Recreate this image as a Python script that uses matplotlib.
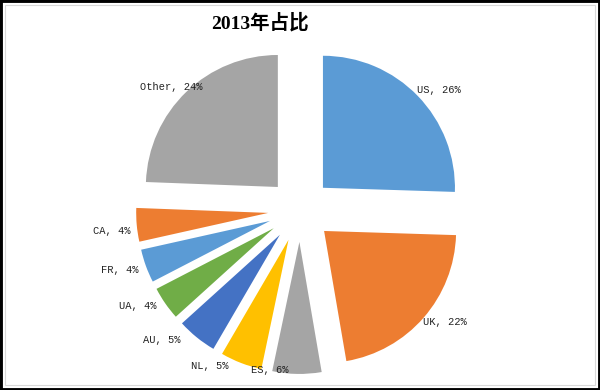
import matplotlib
matplotlib.use('Agg')
import matplotlib.pyplot as plt
from matplotlib.patches import Rectangle

countries = ['US', 'UK', 'ES', 'NL', 'AU', 'UA', 'FR', 'CA', 'Other']
shares = [25.5, 21.8, 6.0, 5.1, 4.9, 4.1, 4.1, 4.1, 24.4]
colors = ['#5B9BD5', '#ED7D31', '#A5A5A5', '#FFC000', '#4472C4',
          '#70AD47', '#5B9BD5', '#ED7D31', '#A5A5A5']
title = '2013年占比'

labels = ['%s, %.0f%%' % (c, s) for c, s in zip(countries, shares)]

# small pixel nudges so labels sit where excel put them
nudge = {'US': (-5, 1), 'UK': (-6, 0), 'ES': (-8, 11), 'NL': (-10, 3),
         'AU': (-12, 2), 'UA': (-3, 1), 'FR': (-1, -2), 'CA': (0, -5),
         'Other': (21, 0)}

fig = plt.figure(figsize=(6, 3.9), dpi=100)
ax = fig.add_axes([0, 0, 1, 1])
r = 132.0  # pixels per unit radius

wedges, texts = ax.pie(shares, labels=labels, colors=colors, startangle=90,
                       counterclock=False, explode=[0.242] * len(shares),
                       labeldistance=1.05,
                       textprops=dict(family='Liberation Mono', fontsize=7.5,
                                      color='#222222'))
for c, t in zip(countries, texts):
    x, y = t.get_position()
    dx, dy = nudge[c]
    t.set_position((x + dx / r, y + dy / r))

ax.set_xlim(-300 / r, 300 / r)
ax.set_ylim(-180 / r, 210 / r)
ax.set_aspect('auto')
ax.axis('off')

fig.text(0.434, 0.943, title, ha='center', va='center', fontsize=14,
         fontweight='bold', family=['Liberation Serif', 'Noto Sans CJK SC'])

fig.add_artist(Rectangle((5 / 600, 5 / 390), 590 / 600, 380 / 390,
                         transform=fig.transFigure, fill=False,
                         ec='#d9d9d9', lw=0.8))
fig.add_artist(Rectangle((0, 0), 1, 1, transform=fig.transFigure,
                         fill=False, ec='black', lw=3.5))

fig.savefig('out.png', dpi=100)
